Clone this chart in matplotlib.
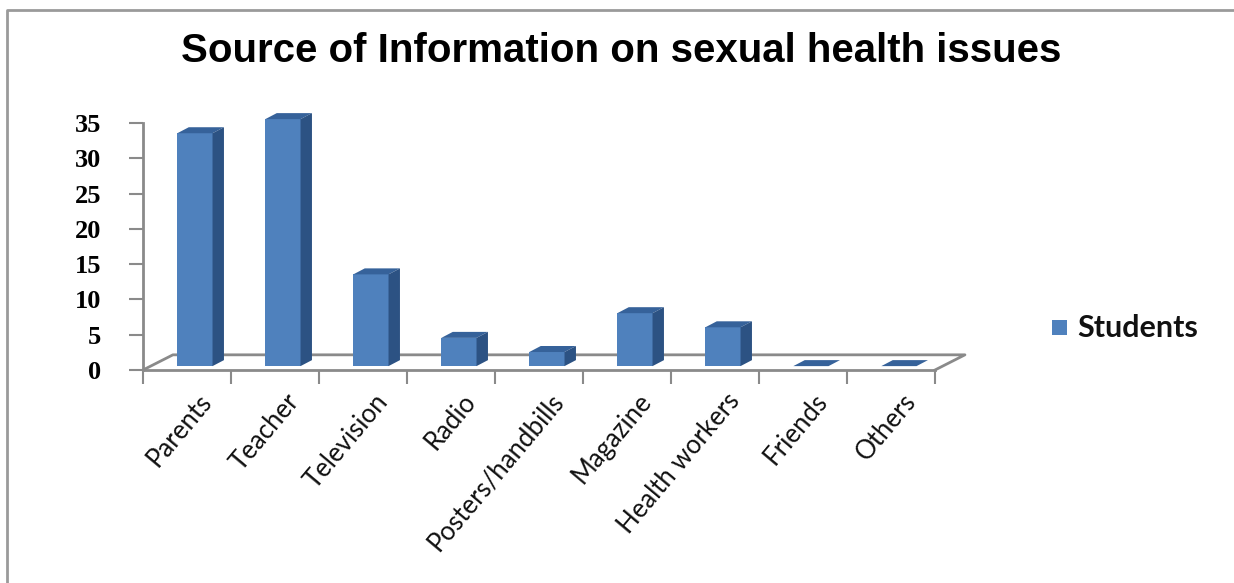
import matplotlib
matplotlib.use('Agg')
import matplotlib.pyplot as plt
from matplotlib.patches import Polygon, Rectangle
from matplotlib.lines import Line2D

categories = ['Parents', 'Teacher', 'Television', 'Radio', 'Posters/handbills',
              'Magazine', 'Health workers', 'Friends', 'Others']
students = [33, 35, 13, 4, 2, 7.5, 5.5, 0, 0]
y_ticks = [0, 5, 10, 15, 20, 25, 30, 35]

W, H = 1234, 583
fig = plt.figure(figsize=(W / 100, H / 100), dpi=100)


def px(x0, y0, x1, y1):
    # pixel box (left, top, right, bottom) -> figure fraction rect
    return [x0 / W, 1 - y1 / H, (x1 - x0) / W, (y1 - y0) / H]


ax = fig.add_axes(px(143, 123, 935, 370))
ax.set_xlim(0, len(categories))
ax.set_ylim(0, 35)

axis_gray = '#8a8a8a'
front_c = '#4F81BD'
top_c = '#36629A'
side_c = '#2C5283'

# floor depth (data units) and bar depth
fdx, fdy = 0.34, 2.15
bdx, bdy = 0.13, 0.85
b0 = 0.55
bar_w = 0.40
x_off = 0.39

# floor outline
ax.add_line(Line2D([0, fdx, len(categories) + fdx, len(categories)],
                   [0, fdy, fdy, 0], color=axis_gray, lw=2, clip_on=False, zorder=1))

for i, v in enumerate(students):
    xl = i + x_off
    top = b0 + v
    ax.bar(xl, v, width=bar_w, bottom=b0, align='edge', color=front_c,
           edgecolor='none', zorder=3, clip_on=False)
    ax.add_patch(Polygon([(xl, top), (xl + bar_w, top), (xl + bar_w + bdx, top + bdy),
                          (xl + bdx, top + bdy)], closed=True, facecolor=top_c,
                         edgecolor='none', zorder=3, clip_on=False))
    if v > 0:
        ax.add_patch(Polygon([(xl + bar_w, b0), (xl + bar_w + bdx, b0 + bdy),
                              (xl + bar_w + bdx, top + bdy), (xl + bar_w, top)],
                             closed=True, facecolor=side_c, edgecolor='none',
                             zorder=3, clip_on=False))

for s in ['top', 'right']:
    ax.spines[s].set_visible(False)
for s in ['left', 'bottom']:
    ax.spines[s].set_color(axis_gray)
    ax.spines[s].set_linewidth(2)

ax.set_yticks(y_ticks)
ax.set_yticklabels([str(t) for t in y_ticks], fontfamily='Liberation Serif',
                   fontweight='bold', fontsize=19)
ax.tick_params(axis='y', length=10, width=1.5, color=axis_gray, pad=20)

ax.set_xticks(range(len(categories) + 1))
ax.set_xticklabels([])
ax.tick_params(axis='x', length=10, width=1.5, color=axis_gray)

for i, name in enumerate(categories):
    ax.text(i + 0.62, -2.7, name, rotation=50, rotation_mode='anchor',
            ha='right', va='top', fontsize=18.5, fontfamily='Lato', color='#111111')

fig.text(621 / W, 1 - 51 / H, 'Source of Information on sexual health issues',
         ha='center', va='center', fontsize=29, fontweight='bold',
         fontfamily='Liberation Sans')

# legend
fig.patches.append(Rectangle((1052 / W, 1 - 335 / H), 15 / W, 15 / H,
                             transform=fig.transFigure, facecolor=front_c,
                             edgecolor='none'))
fig.text(1077 / W, 1 - 328 / H, 'Students', ha='left', va='center',
         fontsize=22, fontweight='bold', fontfamily='Lato', color='#111111')

# chart border
fig.add_artist(Line2D([7 / W, 7 / W, 1.0], [0, 1 - 10 / H, 1 - 10 / H],
                      color='#9a9a9a', lw=2))

fig.savefig('out.png', dpi=100)
